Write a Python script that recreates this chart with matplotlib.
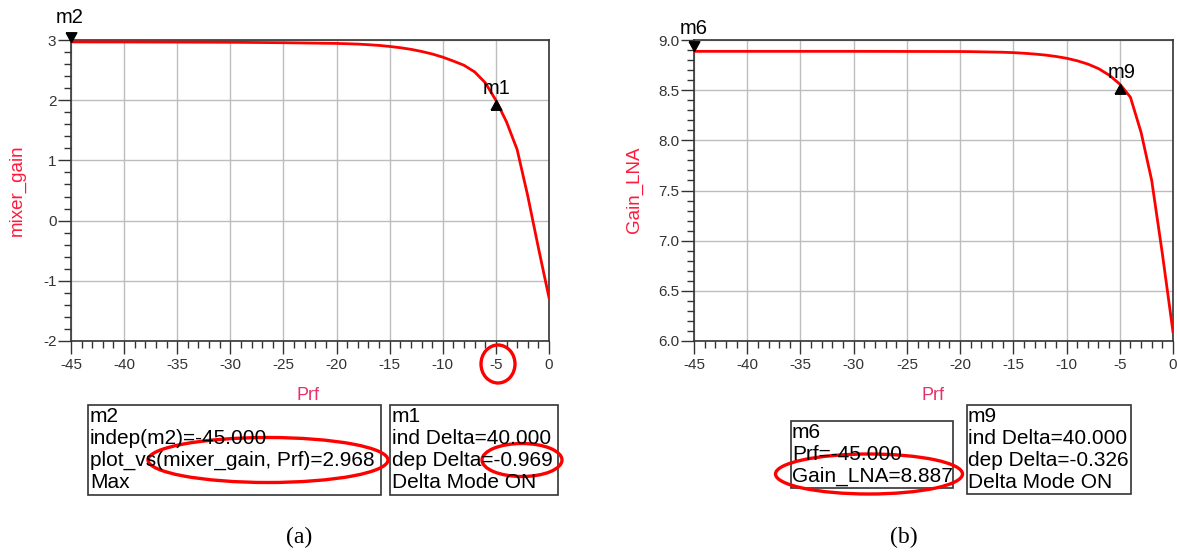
import matplotlib
matplotlib.use('Agg')
import matplotlib.pyplot as plt
import numpy as np
from matplotlib.patches import Rectangle, Ellipse
from matplotlib.ticker import MultipleLocator, FormatStrFormatter

plt.rcParams['font.family'] = ['Liberation Sans', 'DejaVu Sans']
plt.rcParams['axes.unicode_minus'] = False

# data
prf = [-45, -40, -35, -30, -25, -20, -19, -18, -17, -16, -15, -14, -13, -12,
       -11, -10, -9, -8, -7, -6, -5, -4, -3, -2, -1, 0]
mixer_gain = [2.968, 2.967, 2.965, 2.962, 2.955, 2.943, 2.938, 2.932, 2.922, 2.910,
              2.893, 2.872, 2.845, 2.810, 2.768, 2.715, 2.650, 2.580, 2.470, 2.290,
              1.999, 1.640, 1.180, 0.410, -0.450, -1.280]
gain_lna = [8.887, 8.887, 8.887, 8.887, 8.886, 8.885, 8.884, 8.882, 8.880, 8.878,
            8.874, 8.868, 8.860, 8.850, 8.836, 8.818, 8.793, 8.760, 8.715, 8.650,
            8.561, 8.430, 8.080, 7.600, 6.870, 6.090]

W, H = 1177, 553
fig = plt.figure(figsize=(W / 100, H / 100), dpi=100)

def fx(px):
    return px / W

def fy(py):
    return 1 - py / H

red = '#ff0000'
lblred = '#ff1a3c'
prfcol = '#e8306a'

# marker shapes with the tip on the data point
tri_down = [(-0.55, 1.0), (0.55, 1.0), (0.0, 0.0), (-0.55, 1.0)]
tri_up = [(-0.55, -1.0), (0.55, -1.0), (0.0, 0.0), (-0.55, -1.0)]


def style_axes(ax, ylim, ymaj, ymin, fmt):
    ax.set_xlim(-45, 0)
    ax.set_ylim(*ylim)
    ax.xaxis.set_major_locator(MultipleLocator(5))
    ax.xaxis.set_minor_locator(MultipleLocator(1))
    ax.yaxis.set_major_locator(MultipleLocator(ymaj))
    ax.yaxis.set_minor_locator(MultipleLocator(ymin))
    ax.yaxis.set_major_formatter(FormatStrFormatter(fmt))
    ax.grid(True, which='major', color='#bdbdbd', lw=1.0)
    ax.tick_params(which='major', direction='out', length=9.5, width=1, color='#333333',
                   labelsize=11, labelcolor='#333333')
    ax.tick_params(axis='x', which='major', pad=2.5)
    ax.tick_params(axis='y', which='major', pad=1)
    ax.tick_params(which='minor', direction='out', length=5, width=1, color='#333333')
    for s in ax.spines.values():
        s.set_color('#333333')
        s.set_linewidth(1.2)


def px_offset(ax, dx, dy):
    return ax.transData + matplotlib.transforms.ScaledTranslation(dx / 100, dy / 100, fig.dpi_scale_trans)


# (a) mixer gain
ax1 = fig.add_axes([fx(71), fy(341), fx(549) - fx(71), fy(40) - fy(341)])
ax1.plot(prf, mixer_gain, color=red, lw=2.0, zorder=3)
style_axes(ax1, (-2, 3), 1, 0.2, '%d')
ax1.plot([prf[0]], [mixer_gain[0]], marker=tri_down, ms=14, color='black',
         clip_on=False, zorder=4)
ax1.plot([prf[20]], [mixer_gain[20]], marker=tri_up, ms=14, color='black',
         clip_on=False, zorder=4)
ax1.text(prf[0], mixer_gain[0], 'm2', fontsize=14.5, ha='center', va='center',
         transform=px_offset(ax1, -1, 24))
ax1.text(prf[20], mixer_gain[20], 'm1', fontsize=14.5, ha='center', va='center',
         transform=px_offset(ax1, 1, 12))
fig.text(fx(17), fy(190), 'mixer_gain', rotation=90, color=lblred, fontsize=13.5,
         ha='center', va='center')
fig.text(fx(308), fy(395), 'Prf', color=prfcol, fontsize=13, ha='center', va='center')

# (b) LNA gain
ax2 = fig.add_axes([fx(694), fy(341), fx(1173) - fx(694), fy(40) - fy(341)])
ax2.plot(prf, gain_lna, color=red, lw=2.0, zorder=3)
style_axes(ax2, (6.0, 9.0), 0.5, 0.1, '%.1f')
ax2.plot([prf[0]], [gain_lna[0]], marker=tri_down, ms=14, color='black',
         clip_on=False, zorder=4)
ax2.plot([prf[20]], [gain_lna[20]], marker=tri_up, ms=14, color='black',
         clip_on=False, zorder=4)
ax2.text(prf[0], gain_lna[0], 'm6', fontsize=14.5, ha='center', va='center',
         transform=px_offset(ax2, 0, 23))
ax2.text(prf[20], gain_lna[20], 'm9', fontsize=14.5, ha='center', va='center',
         transform=px_offset(ax2, 2, 12))
fig.text(fx(634), fy(190), 'Gain_LNA', rotation=90, color=lblred, fontsize=13.5,
         ha='center', va='center')
fig.text(fx(933), fy(395), 'Prf', color=prfcol, fontsize=13, ha='center', va='center')


def marker_box(x0, y0, x1, y1, lines, ys, tx):
    fig.patches.append(Rectangle((fx(x0), fy(y1)), fx(x1) - fx(x0), fy(y0) - fy(y1),
                                 transform=fig.transFigure, fill=False,
                                 edgecolor='#333333', lw=1.2))
    for s, yy in zip(lines, ys):
        fig.text(fx(tx), fy(yy), s, fontsize=15, ha='left', va='center', color='black')


marker_box(88, 405, 381, 495,
           ['m2', 'indep(m2)=-45.000', 'plot_vs(mixer_gain, Prf)=2.968', 'Max'],
           [417, 439, 460, 482], 90)
marker_box(390, 405, 558, 495,
           ['m1', 'ind Delta=40.000', 'dep Delta=-0.969', 'Delta Mode ON'],
           [417, 439, 460, 482], 392)
marker_box(791, 421, 953, 488,
           ['m6', 'Prf=-45.000', 'Gain_LNA=8.887'],
           [433, 454, 476], 792)
marker_box(967, 405, 1131, 494,
           ['m9', 'ind Delta=40.000', 'dep Delta=-0.326', 'Delta Mode ON'],
           [417, 439, 460, 482], 968)

# red highlight ellipses
for cx, cy, w, h in [(498, 364, 34, 38), (268, 460, 240, 45), (522, 460, 80, 33),
                     (869, 474, 187, 40)]:
    fig.patches.append(Ellipse((fx(cx), fy(cy)), w / W, h / H, transform=fig.transFigure,
                               fill=False, edgecolor=red, lw=2.4))

fig.text(fx(299), fy(537), '(a)', family='Liberation Serif', fontsize=17, ha='center', va='center')
fig.text(fx(904), fy(537), '(b)', family='Liberation Serif', fontsize=17, ha='center', va='center')

fig.savefig('out.png', dpi=100)
